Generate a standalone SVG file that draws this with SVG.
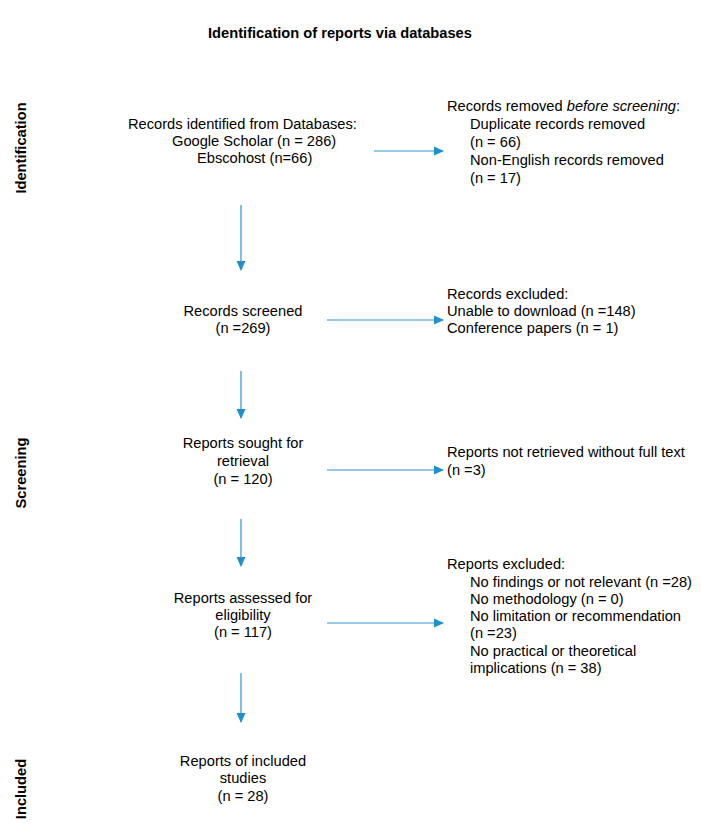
<svg xmlns="http://www.w3.org/2000/svg" width="701" height="834" viewBox="0 0 701 834">
<style>
text{font-family:"Liberation Sans",Arial,sans-serif;font-size:14.67px;fill:#000}
.b{font-weight:bold}
.c{text-anchor:middle}
.ar{stroke:#2a94d6;stroke-width:1.2;fill:none}
</style>
<defs>
<marker id="ah" markerWidth="10" markerHeight="10" refX="9" refY="5" orient="auto" markerUnits="userSpaceOnUse">
<path d="M0,0.5 L10,5 L0,9.5 Z" fill="#1f8fd0"/>
</marker>
</defs>
<rect width="701" height="834" fill="#fff"/>
<text class="b c" x="340" y="38">Identification of reports via databases</text>
<g id="phases">
<text class="b c" transform="translate(26,148) rotate(-90)">Identification</text>
<text class="b c" transform="translate(26,473) rotate(-90)">Screening</text>
<text class="b c" transform="translate(26,789) rotate(-90)">Included</text>
</g>
<g id="n1">
<text x="128" y="129">Records identified from Databases:</text>
<text x="172" y="146">Google Scholar (n = 286)</text>
<text x="197" y="163">Ebscohost (n=66)</text>
</g>
<g id="r1">
<text x="447" y="111">Records removed <tspan font-style="italic">before screening</tspan>:</text>
<text x="470" y="129">Duplicate records removed</text>
<text x="470" y="147">(n = 66)</text>
<text x="470" y="165">Non-English records removed</text>
<text x="470" y="183">(n = 17)</text>
</g>
<g id="n2">
<text class="c" x="243" y="316">Records screened</text>
<text class="c" x="243" y="333">(n =269)</text>
</g>
<g id="r2">
<text x="447" y="299">Records excluded:</text>
<text x="447" y="316">Unable to download (n =148)</text>
<text x="447" y="333">Conference papers (n = 1)</text>
</g>
<g id="n3">
<text class="c" x="243" y="448">Reports sought for</text>
<text class="c" x="243" y="466">retrieval</text>
<text class="c" x="243" y="484">(n = 120)</text>
</g>
<g id="r3">
<text x="447" y="457">Reports not retrieved without full text</text>
<text x="447" y="475">(n =3)</text>
</g>
<g id="n4">
<text class="c" x="243" y="603">Reports assessed for</text>
<text class="c" x="243" y="620">eligibility</text>
<text class="c" x="243" y="637">(n = 117)</text>
</g>
<g id="r4">
<text x="447" y="569">Reports excluded:</text>
<text x="470" y="587">No findings or not relevant (n =28)</text>
<text x="470" y="604">No methodology (n = 0)</text>
<text x="470" y="621">No limitation or recommendation</text>
<text x="470" y="638">(n =23)</text>
<text x="470" y="656">No practical or theoretical</text>
<text x="470" y="673">implications (n = 38)</text>
</g>
<g id="n5">
<text class="c" x="243" y="766">Reports of included</text>
<text class="c" x="243" y="783">studies</text>
<text class="c" x="243" y="801">(n = 28)</text>
</g>
<g id="connectors">
<line class="ar" x1="374" y1="151" x2="443" y2="151" marker-end="url(#ah)"/>
<line class="ar" x1="241" y1="205" x2="241" y2="270" marker-end="url(#ah)"/>
<line class="ar" x1="327" y1="320" x2="443" y2="320" marker-end="url(#ah)"/>
<line class="ar" x1="241" y1="371" x2="241" y2="418" marker-end="url(#ah)"/>
<line class="ar" x1="327" y1="470" x2="443" y2="470" marker-end="url(#ah)"/>
<line class="ar" x1="241" y1="519" x2="241" y2="566" marker-end="url(#ah)"/>
<line class="ar" x1="327" y1="623" x2="443" y2="623" marker-end="url(#ah)"/>
<line class="ar" x1="241" y1="673" x2="241" y2="722" marker-end="url(#ah)"/>
</g>
</svg>
